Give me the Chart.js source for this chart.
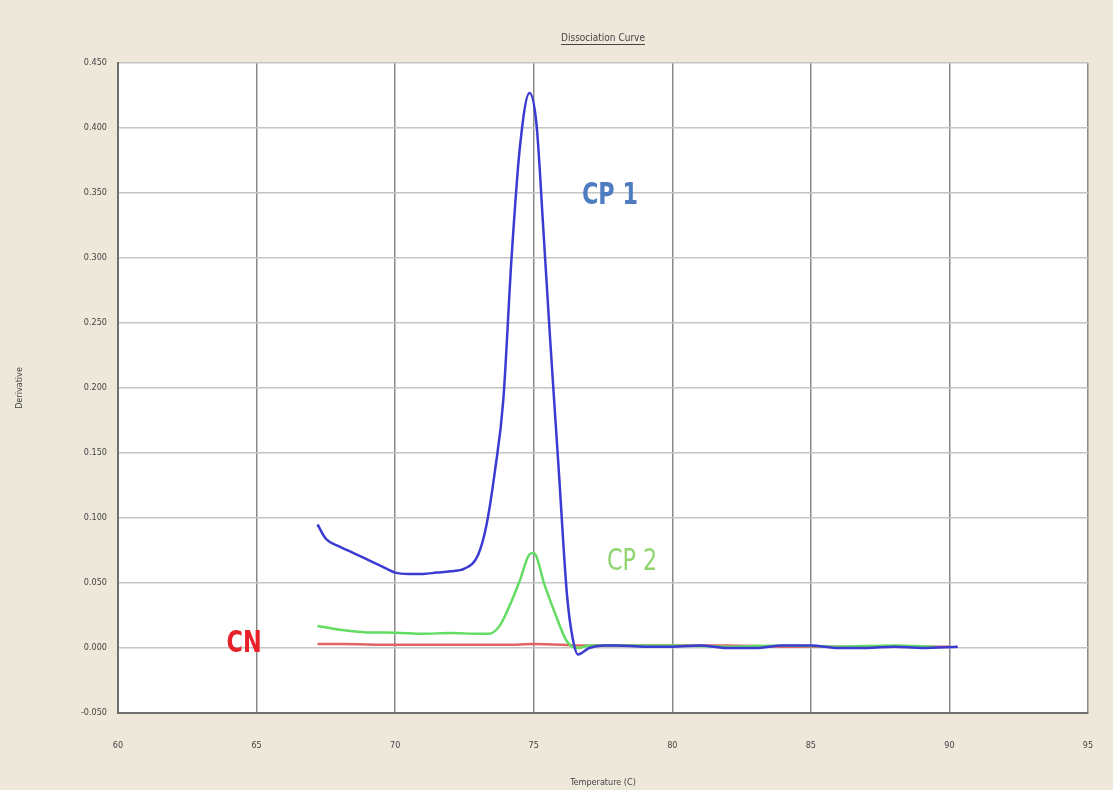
<!DOCTYPE html>
<html>
<head>
<meta charset="utf-8">
<script src="https://cdn.jsdelivr.net/npm/chart.js@4.4.1/dist/chart.umd.min.js"></script>
<style>
  html, body { margin: 0; padding: 0; background: #eee8da; }
  #wrap { width: 1113px; height: 790px; }
</style>
</head>
<body>
<div id="wrap"><canvas id="chart" width="1113" height="790"></canvas></div>
<script>
// dissociation (melt) curve

const xTicks = [60, 65, 70, 75, 80, 85, 90, 95];
const yTicks = [-0.05, 0, 0.05, 0.1, 0.15, 0.2, 0.25, 0.3, 0.35, 0.4, 0.45];

const cp1Temp  = [67.2, 67.5, 68, 68.5, 69, 69.5, 70, 70.5, 71, 71.5, 72, 72.5, 73, 73.3, 73.6, 73.9, 74.2, 74.5, 74.85, 75.1, 75.35, 75.6, 75.9, 76.2, 76.4, 76.6, 77, 77.5, 78, 79, 80, 81, 82, 83, 84, 85, 86, 87, 88, 89, 90.3];
const cp1Deriv = [0.095, 0.084, 0.078, 0.073, 0.068, 0.063, 0.058, 0.057, 0.057, 0.058, 0.059, 0.061, 0.072, 0.095, 0.136, 0.19, 0.3, 0.385, 0.427, 0.403, 0.321, 0.235, 0.138, 0.041, 0.008, -0.005, 0.0, 0.002, 0.002, 0.001, 0.001, 0.002, 0.0, 0.0, 0.002, 0.002, 0.0, 0.0, 0.001, 0.0, 0.001];

const cp2Temp  = [67.2, 68, 69, 70, 71, 72, 73, 73.4, 73.8, 74.2, 74.5, 74.85, 75.0, 75.4, 75.8, 76.2, 76.6, 77, 78, 80, 82, 84, 86, 88, 89.5];
const cp2Deriv = [0.017, 0.014, 0.012, 0.0118, 0.011, 0.0115, 0.011, 0.011, 0.018, 0.036, 0.052, 0.072, 0.073, 0.048, 0.025, 0.005, 0.0, 0.002, 0.002, 0.002, 0.001, 0.002, 0.001, 0.002, 0.001];

const cnTemp  = [67.2, 68, 70, 72, 74, 75, 76, 76.5, 78, 80, 82, 84, 86, 88, 90];
const cnDeriv = [0.003, 0.003, 0.0025, 0.0025, 0.0025, 0.003, 0.0025, 0.002, 0.002, 0.002, 0.002, 0.001, 0.001, 0.001, 0.001];

const labels = [
  { text: 'CP 1', x: 77.75, y: 0.348, color: '#4e7cc0', bold: true },
  { text: 'CP 2', x: 78.55, y: 0.066, color: '#8fd46c', bold: false },
  { text: 'CN',   x: 64.55, y: 0.003, color: '#e8202a', bold: true }
];

const pts = (xs, ys) => xs.map((x, i) => ({ x, y: ys[i] }));

const tickFont = { family: '"Liberation Sans Narrow", "DejaVu Sans Condensed", Arial', size: 9 };

// white plot area + curve labels + title
const decor = {
  id: 'decor',
  beforeDraw(chart) {
    const { ctx, chartArea: a } = chart;
    ctx.save();
    ctx.fillStyle = '#ffffff';
    ctx.fillRect(a.left, a.top, a.right - a.left, a.bottom - a.top);
    ctx.restore();
  },
  afterDraw(chart) {
    const { ctx, scales } = chart;
    ctx.save();
    labels.forEach(l => {
      const px = scales.x.getPixelForValue(l.x), py = scales.y.getPixelForValue(l.y);
      ctx.save();
      ctx.translate(px, py);
      ctx.scale(0.8, 1); // squeezed like the original lettering
      ctx.font = (l.bold ? 'bold ' : '') + '31px "Liberation Sans Narrow", "DejaVu Sans Condensed", sans-serif';
      ctx.fillStyle = l.color;
      ctx.textAlign = 'center';
      ctx.textBaseline = 'middle';
      ctx.fillText(l.text, 0, 0);
      ctx.restore();
    });
    // title, underlined
    ctx.font = '10px "Liberation Sans Narrow", "DejaVu Sans Condensed", Arial';
    ctx.fillStyle = '#444';
    ctx.textAlign = 'center';
    ctx.textBaseline = 'middle';
    const t = 'Dissociation Curve';
    const cx = (chart.chartArea.left + chart.chartArea.right) / 2;
    ctx.fillText(t, cx, 38);
    const w = ctx.measureText(t).width;
    ctx.fillRect(cx - w / 2, 44, w, 1);
    ctx.restore();
  }
};

new Chart(document.getElementById('chart'), {
  type: 'line',
  data: {
    datasets: [
      { label: 'CP 1', data: pts(cp1Temp, cp1Deriv), borderColor: '#3b3bd2', borderWidth: 2.5 },
      { label: 'CP 2', data: pts(cp2Temp, cp2Deriv), borderColor: '#62dc62', borderWidth: 2.5 },
      { label: 'CN',   data: pts(cnTemp, cnDeriv),   borderColor: '#e06464', borderWidth: 2.5 }
    ]
  },
  options: {
    responsive: false,
    animation: false,
    elements: {
      point: { radius: 0 },
      line: { cubicInterpolationMode: 'monotone', fill: false }
    },
    layout: { padding: { top: 63, right: 25, bottom: 0, left: 0 } },
    plugins: { legend: { display: false }, tooltip: { enabled: false }, title: { display: false } },
    scales: {
      x: {
        type: 'linear',
        min: 60, max: 95,
        afterBuildTicks: s => { s.ticks = xTicks.map(v => ({ value: v })); },
        afterFit: s => { s.height = 77; },
        grid: { color: '#8a8a8a', lineWidth: 1.5, drawTicks: true, tickLength: 25, tickColor: 'rgba(0,0,0,0)' },
        border: { color: '#6e6e6e', width: 2 },
        ticks: { font: tickFont, color: '#444', padding: 2, maxRotation: 0 },
        title: { display: true, text: 'Temperature (C)', font: tickFont, color: '#444', padding: { top: 0, bottom: 2 } }
      },
      y: {
        min: -0.05, max: 0.45,
        afterBuildTicks: s => { s.ticks = yTicks.map(v => ({ value: v })); },
        afterFit: s => { s.width = 118; },
        grid: { color: '#c4c4c4', lineWidth: 1.5, drawTicks: false },
        border: { color: '#6e6e6e', width: 2 },
        ticks: { font: tickFont, color: '#444', padding: 11, callback: v => v.toFixed(3) },
        title: { display: true, text: 'Derivative', font: tickFont, color: '#444', padding: { top: 14, bottom: 0 } }
      }
    }
  },
  plugins: [decor]
});
</script>
</body>
</html>
